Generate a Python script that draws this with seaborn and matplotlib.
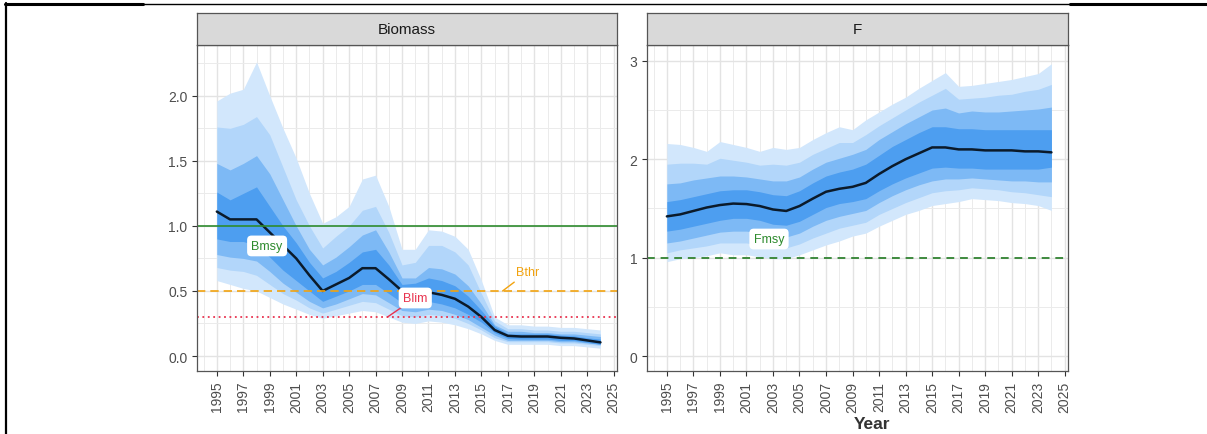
import matplotlib
matplotlib.use("Agg")
import matplotlib.pyplot as plt
import seaborn as sns
from matplotlib.lines import Line2D

# ---- data ----
years = list(range(1995, 2025))

b_med = [1.11, 1.05, 1.05, 1.05, 0.95, 0.85, 0.75, 0.62, 0.50, 0.55, 0.60, 0.675, 0.675, 0.59, 0.50,
         0.49, 0.49, 0.47, 0.44, 0.38, 0.30, 0.20, 0.155, 0.15, 0.15, 0.15, 0.14, 0.135, 0.12, 0.105]
b_u1 = [1.96, 2.02, 2.05, 2.26, 2.00, 1.75, 1.52, 1.25, 1.02, 1.07, 1.15, 1.36, 1.39, 1.15, 0.82,
        0.82, 0.97, 0.96, 0.92, 0.82, 0.58, 0.30, 0.24, 0.24, 0.23, 0.23, 0.22, 0.22, 0.21, 0.20]
b_u2 = [1.76, 1.75, 1.78, 1.84, 1.70, 1.45, 1.20, 1.00, 0.83, 0.92, 1.00, 1.12, 1.15, 0.95, 0.70,
        0.72, 0.85, 0.85, 0.80, 0.70, 0.48, 0.27, 0.21, 0.21, 0.20, 0.20, 0.19, 0.19, 0.18, 0.17]
b_u3 = [1.48, 1.43, 1.48, 1.54, 1.40, 1.20, 1.00, 0.82, 0.70, 0.76, 0.84, 0.93, 0.97, 0.80, 0.60,
        0.60, 0.68, 0.67, 0.63, 0.54, 0.40, 0.24, 0.19, 0.19, 0.18, 0.18, 0.17, 0.17, 0.16, 0.15]
b_u4 = [1.26, 1.20, 1.25, 1.30, 1.15, 1.00, 0.87, 0.72, 0.60, 0.65, 0.72, 0.80, 0.82, 0.70, 0.55,
        0.56, 0.60, 0.58, 0.54, 0.46, 0.35, 0.23, 0.17, 0.17, 0.17, 0.17, 0.16, 0.155, 0.14, 0.13]
b_l4 = [0.90, 0.88, 0.88, 0.85, 0.76, 0.66, 0.58, 0.50, 0.42, 0.46, 0.50, 0.55, 0.55, 0.48, 0.41,
        0.40, 0.42, 0.40, 0.37, 0.32, 0.26, 0.18, 0.135, 0.13, 0.13, 0.13, 0.12, 0.12, 0.105, 0.09]
b_l3 = [0.78, 0.76, 0.75, 0.73, 0.65, 0.56, 0.49, 0.42, 0.37, 0.40, 0.44, 0.48, 0.47, 0.41, 0.35,
        0.34, 0.36, 0.35, 0.32, 0.28, 0.22, 0.16, 0.12, 0.12, 0.12, 0.12, 0.11, 0.11, 0.10, 0.09]
b_l2 = [0.68, 0.66, 0.65, 0.62, 0.55, 0.48, 0.43, 0.37, 0.33, 0.36, 0.39, 0.42, 0.41, 0.36, 0.31,
        0.30, 0.32, 0.31, 0.29, 0.25, 0.20, 0.14, 0.11, 0.11, 0.11, 0.11, 0.10, 0.10, 0.09, 0.08]
b_l1 = [0.58, 0.55, 0.52, 0.50, 0.45, 0.40, 0.36, 0.32, 0.29, 0.31, 0.33, 0.35, 0.34, 0.30, 0.26,
        0.25, 0.27, 0.26, 0.24, 0.21, 0.17, 0.12, 0.09, 0.09, 0.09, 0.09, 0.08, 0.08, 0.07, 0.06]

f_med = [1.42, 1.44, 1.475, 1.51, 1.535, 1.55, 1.545, 1.525, 1.49, 1.475, 1.525, 1.60, 1.67, 1.70, 1.72,
         1.76, 1.85, 1.93, 2.00, 2.06, 2.12, 2.12, 2.10, 2.10, 2.09, 2.09, 2.09, 2.08, 2.08, 2.07]
f_u1 = [2.16, 2.15, 2.12, 2.08, 2.18, 2.15, 2.12, 2.08, 2.12, 2.10, 2.12, 2.20, 2.27, 2.33, 2.30,
        2.40, 2.48, 2.56, 2.63, 2.72, 2.80, 2.88, 2.74, 2.75, 2.77, 2.79, 2.81, 2.84, 2.87, 2.97]
f_u2 = [1.95, 1.96, 1.96, 1.95, 2.01, 1.99, 1.97, 1.94, 1.95, 1.94, 1.97, 2.05, 2.11, 2.17, 2.17,
        2.25, 2.34, 2.42, 2.50, 2.58, 2.65, 2.72, 2.61, 2.62, 2.63, 2.65, 2.66, 2.69, 2.71, 2.76]
f_u3 = [1.75, 1.76, 1.79, 1.81, 1.83, 1.83, 1.82, 1.80, 1.78, 1.78, 1.82, 1.90, 1.97, 2.01, 2.05,
        2.10, 2.20, 2.28, 2.36, 2.43, 2.50, 2.52, 2.47, 2.49, 2.48, 2.48, 2.49, 2.50, 2.51, 2.53]
f_u4 = [1.57, 1.59, 1.62, 1.65, 1.68, 1.69, 1.69, 1.67, 1.64, 1.63, 1.68, 1.76, 1.83, 1.87, 1.90,
        1.95, 2.04, 2.13, 2.20, 2.27, 2.33, 2.33, 2.31, 2.31, 2.30, 2.30, 2.30, 2.30, 2.30, 2.30]
f_l4 = [1.27, 1.29, 1.32, 1.35, 1.38, 1.40, 1.40, 1.38, 1.34, 1.33, 1.37, 1.44, 1.51, 1.55, 1.57,
        1.60, 1.68, 1.75, 1.81, 1.86, 1.91, 1.92, 1.91, 1.91, 1.90, 1.90, 1.90, 1.90, 1.90, 1.92]
f_l3 = [1.15, 1.17, 1.20, 1.23, 1.26, 1.27, 1.27, 1.25, 1.22, 1.21, 1.25, 1.32, 1.38, 1.42, 1.45,
        1.48, 1.56, 1.63, 1.69, 1.74, 1.78, 1.80, 1.80, 1.81, 1.80, 1.79, 1.78, 1.78, 1.77, 1.77]
f_l2 = [1.05, 1.08, 1.10, 1.12, 1.15, 1.15, 1.15, 1.13, 1.10, 1.10, 1.14, 1.20, 1.25, 1.30, 1.33,
        1.36, 1.44, 1.50, 1.56, 1.61, 1.66, 1.68, 1.69, 1.71, 1.70, 1.69, 1.67, 1.66, 1.64, 1.62]
f_l1 = [0.96, 0.99, 1.00, 1.02, 1.05, 1.03, 1.03, 1.01, 0.99, 0.99, 1.03, 1.08, 1.13, 1.17, 1.22,
        1.25, 1.32, 1.38, 1.44, 1.48, 1.53, 1.55, 1.57, 1.60, 1.59, 1.58, 1.56, 1.55, 1.53, 1.48]

ref_bmsy, ref_bthr, ref_blim, ref_fmsy = 1.0, 0.5, 0.3, 1.0
xticks = list(range(1995, 2026, 2))

band_cols = ["#D2E7FC", "#B2D6FA", "#7DB9F5", "#4D9EF0"]
green, orange, red = "#2E8B2E", "#F2A30F", "#E8334F"

sns.set_theme(style="white")
plt.rcParams["font.family"] = ["Liberation Sans", "DejaVu Sans"]

fig = plt.figure(figsize=(12.07, 4.35), dpi=100)
W, H = 1207, 435


def panel(x0, x1, title, ylim, major, minor):
    ax = fig.add_axes([x0 / W, (H - 372) / H, (x1 - x0) / W, 326 / H])
    sax = fig.add_axes([x0 / W, (H - 46) / H, (x1 - x0) / W, 32 / H])
    sax.set_facecolor("#D9D9D9")
    sax.set_xticks([]); sax.set_yticks([])
    for s in sax.spines.values():
        s.set_color("#555555"); s.set_linewidth(0.9)
    sax.text(0.5, 0.5, title, ha="center", va="center", fontsize=11, color="#1A1A1A",
             transform=sax.transAxes)
    ax.set_xlim(1993.5, 2025.25)
    ax.set_ylim(*ylim)
    ax.set_xticks(xticks)
    ax.set_xticks(range(1994, 2026, 2), minor=True)
    ax.set_yticks(major)
    ax.set_yticks(minor, minor=True)
    ax.grid(True, which="major", color="#E3E3E3", lw=1.0)
    ax.grid(True, which="minor", color="#EBEBEB", lw=0.7)
    ax.set_axisbelow(True)
    for s in ax.spines.values():
        s.set_color("#555555"); s.set_linewidth(0.9)
    ax.tick_params(axis="both", which="major", length=3.5, width=0.8, color="#333333",
                   labelsize=10, labelcolor="#4D4D4D", bottom=True, left=True)
    ax.tick_params(axis="both", which="minor", length=0)
    ax.set_xticklabels([str(t) for t in xticks], rotation=90)
    ax.set_xlabel(""); ax.set_ylabel("")
    return ax


ax1 = panel(197, 617, "Biomass", (-0.115, 2.39), [0, 0.5, 1.0, 1.5, 2.0], [0.25, 0.75, 1.25, 1.75, 2.25])
ax1.set_yticklabels(["0.0", "0.5", "1.0", "1.5", "2.0"])
for lo, hi, c in zip([b_l1, b_l2, b_l3, b_l4], [b_u1, b_u2, b_u3, b_u4], band_cols):
    ax1.fill_between(years, lo, hi, color=c, lw=0)
sns.lineplot(x=years, y=b_med, ax=ax1, color="#0B1A2A", lw=1.8)
ax1.axhline(ref_bmsy, color=green, lw=1.2)
ax1.axhline(ref_bthr, color=orange, lw=1.2, ls=(0, (5, 3)))
ax1.axhline(ref_blim, color=red, lw=1.3, ls=(0, (1, 2)))
box = dict(boxstyle="round,pad=0.35", fc="white", ec="none")
ax1.text(1998.8, 0.846, "Bmsy", color=green, fontsize=9, ha="center", va="center", bbox=box)
ax1.annotate("Blim", xy=(2007.9, ref_blim), xytext=(2010.0, 0.446), color=red, fontsize=9,
             ha="center", va="center", bbox=box,
             arrowprops=dict(arrowstyle="-", color=red, lw=1.0, shrinkA=0, shrinkB=0))
ax1.annotate("Bthr", xy=(2016.6, ref_bthr), xytext=(2018.5, 0.646), color=orange, fontsize=9,
             ha="center", va="center",
             bbox=dict(boxstyle="round,pad=0.2", fc="white", ec="none", alpha=0.0),
             arrowprops=dict(arrowstyle="-", color=orange, lw=1.0, shrinkA=2, shrinkB=0))

ax2 = panel(647, 1068, "F", (-0.15, 3.16), [0, 1, 2, 3], [0.5, 1.5, 2.5])
ax2.set_yticklabels(["0", "1", "2", "3"])
for lo, hi, c in zip([f_l1, f_l2, f_l3, f_l4], [f_u1, f_u2, f_u3, f_u4], band_cols):
    ax2.fill_between(years, lo, hi, color=c, lw=0)
sns.lineplot(x=years, y=f_med, ax=ax2, color="#0B1A2A", lw=1.8)
ax2.axhline(ref_fmsy, color="#3E8A3E", lw=1.4, ls=(0, (4, 3)))
ax2.text(2002.7, 1.19, "Fmsy", color=green, fontsize=9, ha="center", va="center", bbox=box)

fig.text(872 / W, 1 - 425 / H, "Year", ha="center", va="center", fontsize=12.5,
         fontweight="bold", color="#333333")

# page frame lines
fig.add_artist(Line2D([5 / W, 1.0], [1 - 5 / H, 1 - 5 / H], color="black", lw=1.0))
fig.add_artist(Line2D([5 / W, 143 / W], [1 - 5.3 / H, 1 - 5.3 / H], color="black", lw=2.2))
fig.add_artist(Line2D([1070 / W, 1.0], [1 - 5.3 / H, 1 - 5.3 / H], color="black", lw=2.2))
fig.add_artist(Line2D([6 / W, 6 / W], [0, 1 - 4 / H], color="black", lw=1.6))

fig.savefig("out.png", dpi=100)
